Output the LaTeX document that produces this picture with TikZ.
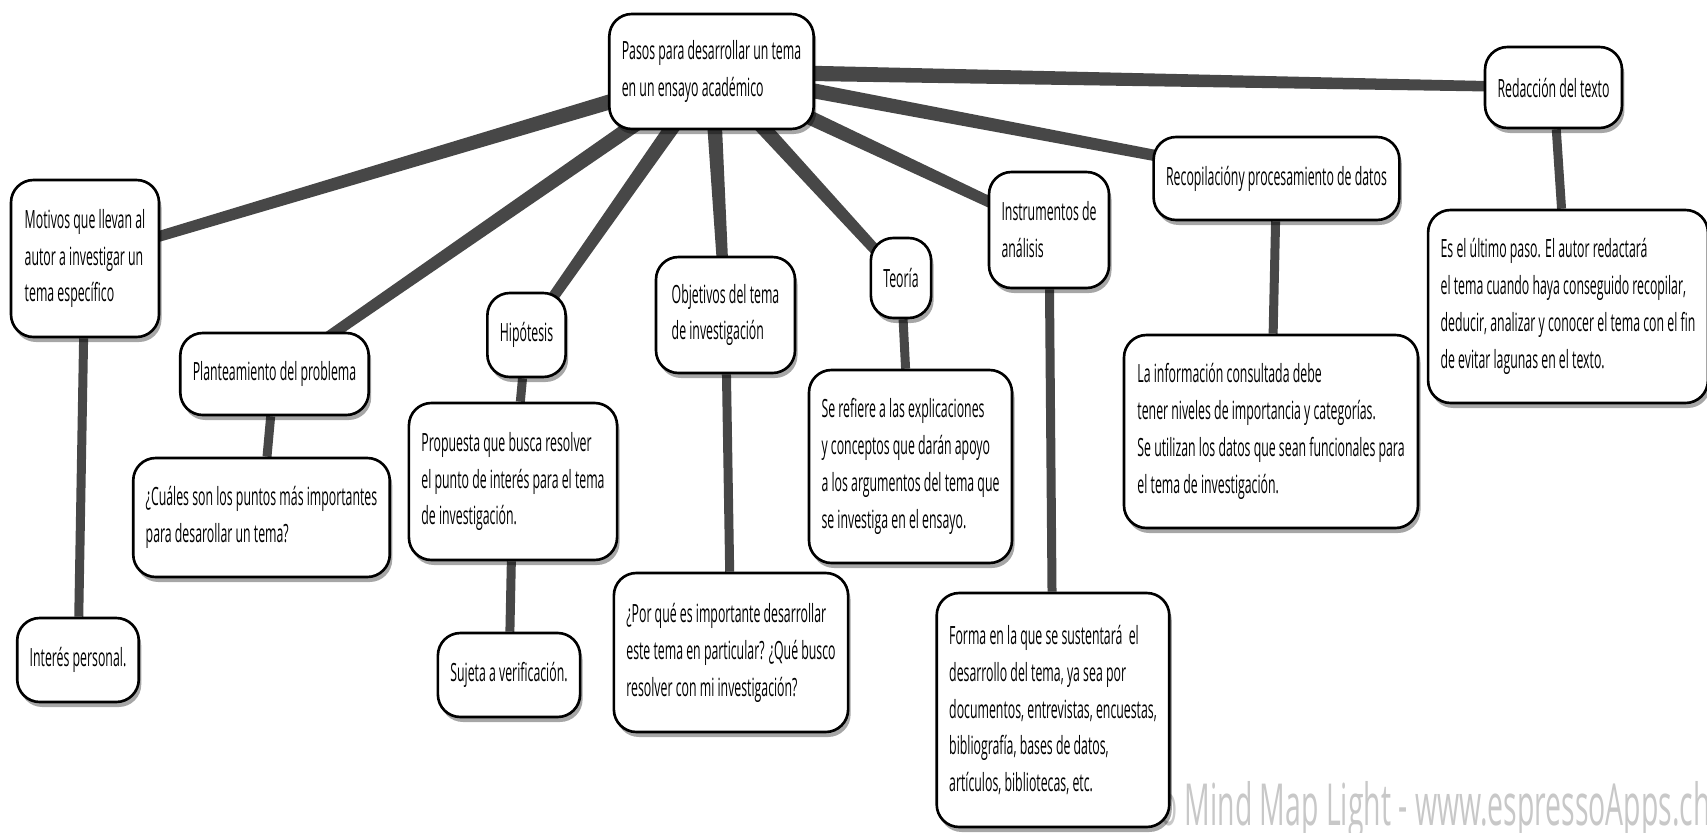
\documentclass[tikz,border=0pt]{standalone}
\usepackage{fontspec}
\setmainfont{Open Sans}[FakeStretch=0.49]
\usetikzlibrary{calc,shadows,backgrounds}

\definecolor{branchgray}{HTML}{474747}
\definecolor{markgray}{HTML}{C8C8C8}

\tikzset{
  topic/.style={draw=black, line width=1.5pt, fill=white, rounded corners=0.45cm,
    align=left, inner sep=0.25cm, font=\fontsize{14.3}{21}\selectfont,
    drop shadow={shadow xshift=0.05cm, shadow yshift=-0.1cm, fill=black, opacity=0.35}},
  sz/.style 2 args={minimum width=#1*0.02cm, minimum height=#2*0.02cm},
  twig/.style={draw=branchgray, line width=0.18cm},
}

% tapered branch from the central topic
\newcommand{\branch}[4]{\fill[branchgray] ($(#1)!#3!90:(#2)$) -- ($(#2)!#4!-90:(#1)$)
  -- ($(#2)!#4!90:(#1)$) -- ($(#1)!#3!-90:(#2)$) -- cycle;}

\begin{document}
\begin{tikzpicture}[x=0.02cm, y=-0.02cm]
\useasboundingbox (0,0) rectangle (1707,832);
\clip (0,0) rectangle (1707,832);

\node[anchor=base west, text=markgray, font=\fontsize{33}{33}\selectfont, inner sep=0] (mark) at (1160,825)
  {o Mind Map Light - www.espressoApps.ch};

% central topic
\node[topic, sz={197}{115}] (root) at (711.5,71.5) {Pasos para desarrollar un tema\\en un ensayo académico};

% main topics
\node[topic, sz={148}{157}] (motivos) at (85,258.5) {Motivos que llevan al\\autor a investigar un\\tema específico};
\node[topic, sz={187}{82}] (plant) at (274.5,374) {Planteamiento del problema};
\node[topic, sz={77}{84}] (hipo) at (526.5,335) {Hipótesis};
\node[topic, sz={139}{116}] (objet) at (725.5,315) {Objetivos del tema\\de investigación};
\node[topic, sz={58}{80}] (teoria) at (901,278) {Teoría};
\node[topic, sz={118}{116}] (instr) at (1049,230) {Instrumentos de\\análisis};
\node[topic, sz={245}{83}] (recop) at (1276.5,178.5) {Recopilacióny procesamiento de datos};
\node[topic, sz={135}{81}] (redac) at (1553.5,87.5) {Redacción del texto};

% subtopics
\node[topic, sz={118}{84}] (interes) at (78,660) {Interés personal.};
\node[topic, sz={255}{119}] (cuales) at (261.5,517.5) {¿Cuáles son los puntos más importantes\\para desarollar un tema?};
\node[topic, sz={208}{157}] (prop) at (513,481.5) {Propuesta que busca resolver\\el punto de interés para el tema\\de investigación.};
\node[topic, sz={140}{84}] (sujeta) at (509,675) {Sujeta a verificación.};
\node[topic, sz={234}{159}] (porque) at (731,652.5) {¿Por qué es importante desarrollar\\este tema en particular? ¿Qué busco\\resolver con mi investigación?};
\node[topic, sz={199}{193}] (refiere) at (910.5,466.5) {Se refiere a las explicaciones\\y conceptos que darán apoyo\\a los argumentos del tema que\\se investiga en el ensayo.};
\node[topic, sz={230}{234}] (forma) at (1053,710) {Forma en la que se sustentará~ el\\desarrollo del tema, ya sea por\\documentos, entrevistas, encuestas,\\bibliografía, bases de datos,\\artículos, bibliotecas, etc.};
\node[topic, sz={294}{193}] (info) at (1271,431.5) {La información consultada debe\\tener niveles de importancia y categorías.\\Se utilizan los datos que sean funcionales para\\el tema de investigación.};
\node[topic, sz={274}{193}] (ultimo) at (1568,306.5) {Es el último paso. El autor redactará\\el tema cuando haya conseguido recopilar,\\deducir, analizar y conocer el tema con el fin\\de evitar lagunas en el texto.};

\begin{scope}[on background layer]
\fill[white] (0,0) rectangle (1707,832);
\foreach \t in {motivos,plant,hipo,objet,teoria,instr,recop,redac}
  \branch{root}{\t}{0.16cm}{0.1cm};
\draw[twig] (motivos) -- (interes);
\draw[twig] (plant) -- (cuales);
\draw[twig] (hipo) -- (prop);
\draw[twig] (prop) -- (sujeta);
\draw[twig] (objet) -- (porque);
\draw[twig] (teoria) -- (refiere);
\draw[twig] (instr) -- (forma);
\draw[twig] (recop) -- (info);
\draw[twig] (redac) -- (ultimo);
\end{scope}
\end{tikzpicture}
\end{document}
